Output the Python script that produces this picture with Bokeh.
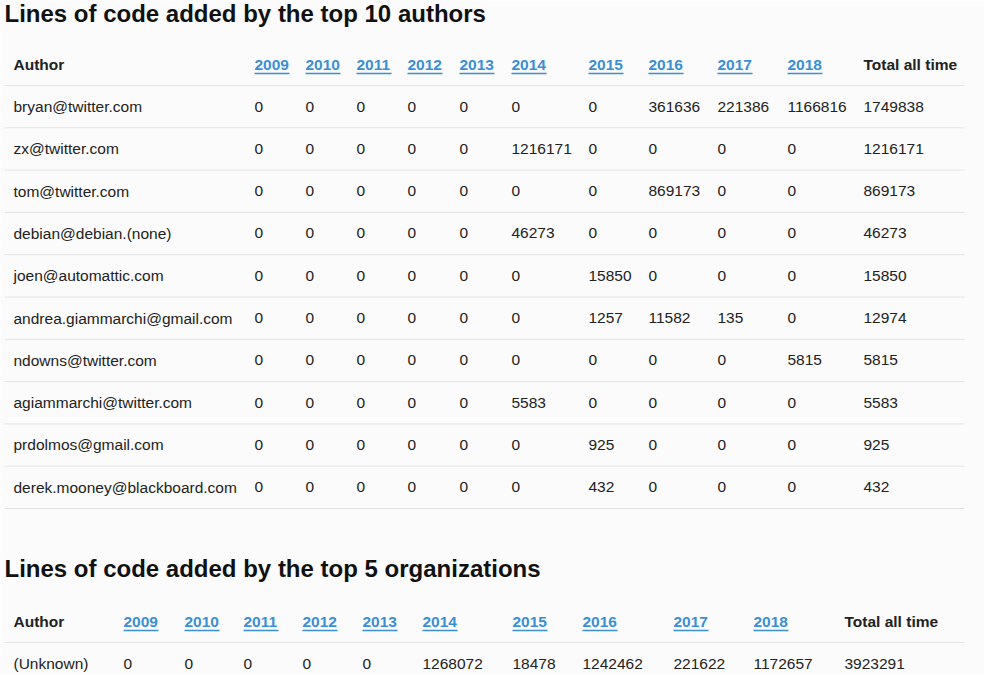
from bokeh.plotting import figure
from bokeh.models import ColumnDataSource
from bokeh.core.properties import value
from bokeh.embed import file_html
from bokeh.resources import INLINE

years = ["2009", "2010", "2011", "2012", "2013", "2014", "2015", "2016", "2017", "2018"]

authors = ["bryan@twitter.com", "zx@twitter.com", "tom@twitter.com", "debian@debian.(none)",
           "joen@automattic.com", "andrea.giammarchi@gmail.com", "ndowns@twitter.com",
           "agiammarchi@twitter.com", "prdolmos@gmail.com", "derek.mooney@blackboard.com"]
author_counts = [
    [0, 0, 0, 0, 0, 0, 0, 361636, 221386, 1166816, 1749838],
    [0, 0, 0, 0, 0, 1216171, 0, 0, 0, 0, 1216171],
    [0, 0, 0, 0, 0, 0, 0, 869173, 0, 0, 869173],
    [0, 0, 0, 0, 0, 46273, 0, 0, 0, 0, 46273],
    [0, 0, 0, 0, 0, 0, 15850, 0, 0, 0, 15850],
    [0, 0, 0, 0, 0, 0, 1257, 11582, 135, 0, 12974],
    [0, 0, 0, 0, 0, 0, 0, 0, 0, 5815, 5815],
    [0, 0, 0, 0, 0, 5583, 0, 0, 0, 0, 5583],
    [0, 0, 0, 0, 0, 0, 925, 0, 0, 0, 925],
    [0, 0, 0, 0, 0, 0, 432, 0, 0, 0, 432],
]

orgs = ["(Unknown)"]
org_counts = [[0, 0, 0, 0, 0, 1268072, 18478, 1242462, 221622, 1172657, 3923291]]

FONT = value("Liberation Sans")
BLUE = "#3b8fd4"
INK = "#222222"

p = figure(width=984, height=674, x_range=(8, 992), y_range=(682, 8),
           output_backend="svg", toolbar_location=None)
p.axis.visible = False
p.grid.visible = False
p.outline_line_color = None
p.background_fill_color = "#fbfbfb"
p.border_fill_color = "#fbfbfb"
p.min_border = 0


def table(title, title_y, col_x, header_y, row_y, names, counts, line_ys):
    p.text(x=[12], y=[title_y], text=[title], text_font=FONT, text_font_size="24px",
           text_font_style="bold", text_baseline="middle", text_color="#111111")
    p.segment(x0=[12] * len(line_ys), x1=[972] * len(line_ys), y0=line_ys, y1=line_ys,
              line_color="#e4e4e4", line_width=1)
    # header
    p.text(x=[col_x[0], col_x[-1]], y=[header_y] * 2, text=["Author", "Total all time"],
           text_font=FONT, text_font_size="15.5px", text_font_style="bold",
           text_baseline="middle", text_color=INK)
    ys = ColumnDataSource(dict(x=col_x[1:-1], y=[header_y] * len(years), t=years,
                               x1=[x + 35 for x in col_x[1:-1]], u=[header_y + 9] * len(years)))
    p.text(x="x", y="y", text="t", source=ys, text_font=FONT, text_font_size="15.5px",
           text_font_style="bold", text_baseline="middle", text_color=BLUE)
    p.segment(x0="x", x1="x1", y0="u", y1="u", source=ys, line_color=BLUE, line_width=1.3)
    # body
    xs, yy, tt = [], [], []
    for name, vals, y in zip(names, counts, row_y):
        xs.append(col_x[0]); yy.append(y); tt.append(name)
        for cx, v in zip(col_x[1:], vals):
            xs.append(cx); yy.append(y); tt.append(str(v))
    p.text(x=xs, y=yy, text=tt, text_font=FONT, text_font_size="15.5px",
           text_baseline="middle", text_color=INK)


col1 = [21, 262, 313, 364, 415, 467, 519, 596, 656, 725, 795, 871]
rows1 = [114 + 42.3 * i for i in range(len(authors))]
lines1 = [93 + 42.3 * i for i in range(len(authors) + 1)]
table("Lines of code added by the top 10 authors", 21, col1, 72, rows1, authors, author_counts, lines1)

col2 = [21, 131, 192, 251, 310, 370, 430, 520, 590, 681, 761, 852]
table("Lines of code added by the top 5 organizations", 576, col2, 629, [671], orgs, org_counts, [650])

open("out.html", "w").write(file_html(p, INLINE))
